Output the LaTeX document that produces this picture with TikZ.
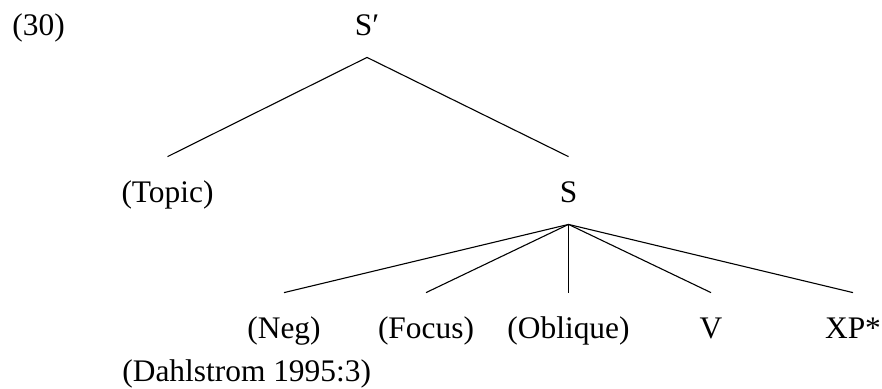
\documentclass[tikz,border=0pt]{standalone}
\usepackage{fontspec}
\setmainfont{Liberation Serif}
\usepackage{tikz}
\usetikzlibrary{positioning}

\begin{document}
\begin{tikzpicture}[
    x=0.5pt, y=-0.5pt,
    font=\fontsize{15.7}{18}\selectfont,
    lbl/.style={inner xsep=0pt, inner ysep=7.5pt, text height=15pt, text depth=3.5pt, anchor=base},
    txt/.style={inner sep=0pt, anchor=base west},
    branch/.style={line width=0.55pt}
]
\useasboundingbox (0,0) rectangle (882,388);

\node[txt] (num) at (12, 35) {(30)};
\node[lbl] (sbar) at (367, 35) {S′};
\node[lbl] (topic) at (167.5, 202) {(Topic)};
\node[lbl] (s) at (568.5, 202) {S};

\node[lbl] (neg) at (284, 338) {(Neg)};
\node[lbl] (focus) at (426, 338) {(Focus)};
\node[lbl] (obl) at (568.5, 338) {(Oblique)};
\node[lbl] (v) at (711, 338) {V};
\node[lbl] (xp) at (853, 338) {XP*};

\node[txt] (src) at (122, 381) {(Dahlstrom 1995:3)};

\draw[branch] (sbar.south) -- (topic.north);
\draw[branch] (sbar.south) -- (s.north);
\foreach \d in {neg, focus, obl, v, xp}
    \draw[branch] (s.south) -- (\d.north);

\end{tikzpicture}
\end{document}
